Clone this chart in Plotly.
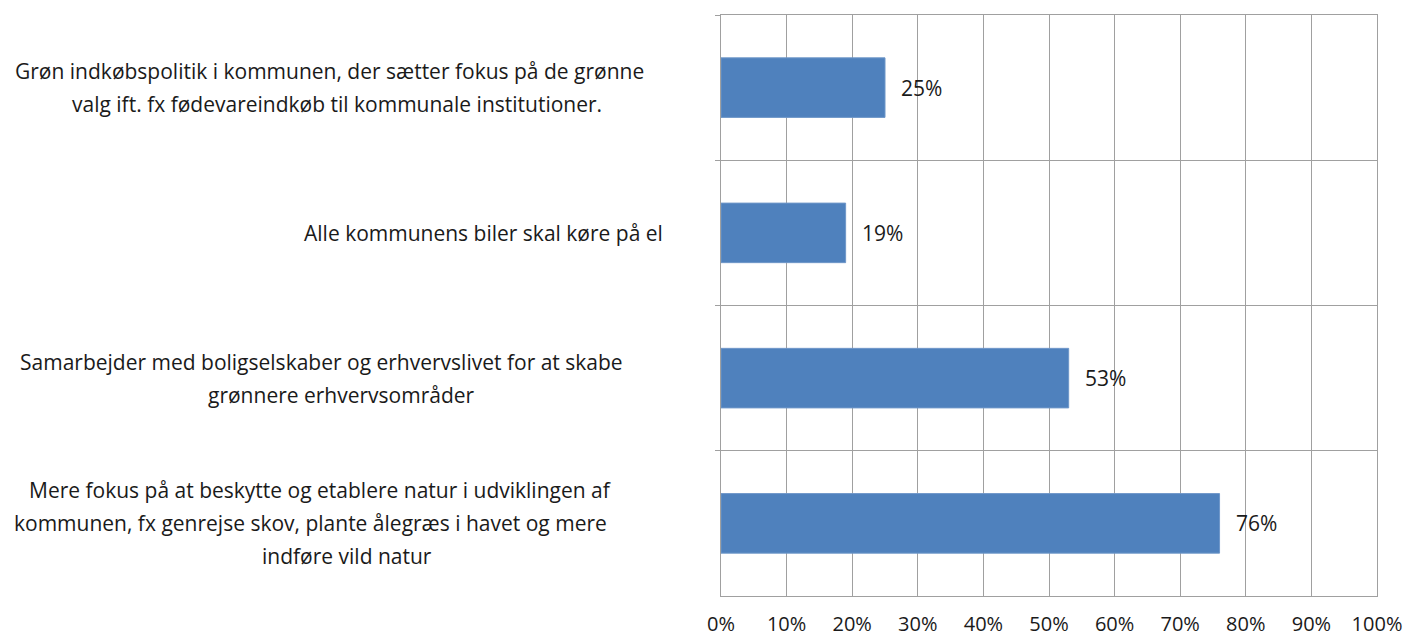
import plotly.graph_objects as go

# Survey answers, listed top to bottom as in the chart
categories = [
    "Grøn indkøbspolitik i kommunen, der sætter fokus på de grønne\nvalg ift. fx fødevareindkøb til kommunale institutioner.",
    "Alle kommunens biler skal køre på el",
    "Samarbejder med boligselskaber og erhvervslivet for at skabe\ngrønnere erhvervsområder",
    "Mere fokus på at beskytte og etablere natur i udviklingen af\nkommunen, fx genrejse skov, plante ålegræs i havet og mere\nindføre vild natur",
]
shares = [0.25, 0.19, 0.53, 0.76]
tick_values = [0, 0.1, 0.2, 0.3, 0.4, 0.5, 0.6, 0.7, 0.8, 0.9, 1.0]
tick_labels = ["0%", "10%", "20%", "30%", "40%", "50%", "60%", "70%", "80%", "90%", "100%"]

# layout helpers: pixel centre of every wrapped label line, line height
line_centres_px = [[329, 337], [483], [321, 341], [320, 310, 347]]
plot_left, plot_width = 721, 656
line_height = 33

FONT = "Open Sans"
TEXT_COLOR = "#1a1a1a"
GRID = "#a0a0a0"

fig = go.Figure()
fig.add_bar(
    x=shares,
    y=categories,
    orientation="h",
    width=0.41,
    marker=dict(color="#4f81bd", line=dict(color="#6f97c9", width=1)),
    showlegend=False,
    hoverinfo="skip",
)

# value labels to the right of each bar
for cat, v in zip(categories, shares):
    fig.add_annotation(
        x=v, y=cat, xref="x", yref="y",
        text=f"{round(v * 100)}%",
        showarrow=False, xanchor="left", xshift=14,
        font=dict(family=FONT, size=21, color=TEXT_COLOR),
    )

# category labels, one annotation per line to get Excel-like line spacing
for i, label in enumerate(categories):
    lines = label.split("\n")
    for j, line in enumerate(lines):
        xc = (line_centres_px[i][j] - plot_left) / plot_width
        offset = ((len(lines) - 1) / 2 - j) * line_height
        fig.add_annotation(
            x=xc, y=label, xref="paper", yref="y",
            text=line, showarrow=False, xanchor="center",
            yshift=offset,
            font=dict(family=FONT, size=21, color=TEXT_COLOR),
        )

fig.update_layout(
    width=1405,
    height=636,
    margin=dict(l=plot_left, r=1405 - plot_left - plot_width, t=15, b=40, autoexpand=False),
    paper_bgcolor="white",
    plot_bgcolor="white",
    xaxis=dict(
        range=[0, 1],
        tickvals=tick_values,
        ticktext=tick_labels,
        showgrid=True,
        gridcolor=GRID,
        gridwidth=1,
        showline=True,
        linecolor=GRID,
        mirror=True,
        zeroline=False,
        ticks="",
        ticklabelstandoff=10,
        tickfont=dict(family=FONT, size=20, color=TEXT_COLOR),
        fixedrange=True,
    ),
    yaxis=dict(
        type="category",
        categoryorder="array",
        categoryarray=categories,
        autorange="reversed",
        showticklabels=False,
        tickson="boundaries",
        ticks="outside",
        ticklen=5,
        tickcolor=GRID,
        showgrid=True,
        gridcolor=GRID,
        showline=True,
        linecolor=GRID,
        mirror=True,
        zeroline=False,
        fixedrange=True,
    ),
)

# drop the browser's default body margin so the figure sits at the page corner
fig.write_html(
    "out.html",
    config={"displayModeBar": False},
    post_script="document.body.style.margin='0';",
)
